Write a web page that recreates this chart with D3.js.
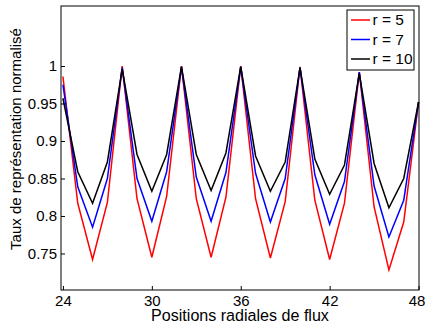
<!DOCTYPE html>
<html><head><meta charset="utf-8">
<script src="https://cdn.jsdelivr.net/npm/d3@7"></script>
<style>html,body{margin:0;padding:0;background:#fff;}svg{display:block;font-family:"Liberation Sans",Arial,sans-serif;}</style>
</head><body>
<svg id="c" width="426" height="324"></svg>
<script>
const positions = d3.range(24, 49);
const r5 = [0.986,0.817,0.742,0.818,1.000,0.823,0.745,0.826,1.000,0.823,0.745,0.825,1.000,0.823,0.744,0.819,0.999,0.821,0.742,0.817,0.992,0.812,0.728,0.792,0.952];
const r7 = [0.975,0.839,0.785,0.850,0.998,0.850,0.793,0.859,0.999,0.852,0.793,0.858,0.999,0.857,0.792,0.850,0.998,0.855,0.789,0.846,0.992,0.840,0.772,0.821,0.952];
const r10 = [0.957,0.859,0.817,0.872,0.996,0.882,0.833,0.882,0.999,0.882,0.834,0.884,0.999,0.880,0.833,0.872,0.998,0.876,0.829,0.868,0.990,0.870,0.811,0.850,0.952];
const seriesNames = ["r = 5","r = 7","r = 10"];
const seriesColors = ["#ff0000","#0000ff","#000000"];
const xTicks = [24,30,36,42,48];
const yTicks = [0.75,0.8,0.85,0.9,0.95,1];
const xLabel = "Positions radiales de flux";
const yLabel = "Taux de représentation normalisé";

const svg = d3.select("#c");
const L = 61, R = 419, T = 6, B = 290;
const x = d3.scaleLinear().domain([23.87, 48.03]).range([L, R]);
const y = d3.scaleLinear().domain([0.7013, 1.08]).range([B, T]);

const series = [r5, r7, r10];
const line = d3.line().x((d,i)=>x(positions[i])).y(d=>y(d));
series.forEach((s,k)=>{
  svg.append("path").attr("d", line(s)).attr("fill","none")
    .attr("stroke", seriesColors[k]).attr("stroke-width",1.5).attr("stroke-linejoin","miter");
});

// axes
const xa = svg.append("g").attr("transform",`translate(0,${B})`)
  .call(d3.axisBottom(x).tickValues(xTicks).tickSize(-4).tickPadding(5).tickFormat(d3.format("d")));
const ya = svg.append("g").attr("transform",`translate(${L},0)`)
  .call(d3.axisLeft(y).tickValues(yTicks).tickSize(-4).tickPadding(4).tickFormat(d=>String(d)));
[xa,ya].forEach(g=>{
  g.select(".domain").remove();
  g.selectAll("text").attr("font-size",15).attr("fill","#000").attr("font-family","Liberation Sans, Arial, sans-serif");
  g.selectAll("line").attr("stroke","#000");
});
xa.selectAll(".tick").filter(d=>d===48).select("text").attr("dx",-2);
svg.append("rect").attr("x",L).attr("y",T).attr("width",R-L).attr("height",B-T)
  .attr("fill","none").attr("stroke","#000").attr("stroke-width",1);

function fit(sel, target){
  const base = 15;
  sel.attr("font-size", base);
  const w = sel.node().getComputedTextLength();
  if (w > 0) sel.attr("font-size", base * target / w);
}
const xt = svg.append("text").attr("x",(L+R)/2).attr("y",321).attr("text-anchor","middle").text(xLabel);
fit(xt, 178);
const yt = svg.append("text").attr("transform",`translate(21,139) rotate(-90)`).attr("text-anchor","middle").text(yLabel);
fit(yt, 222);

// legend
const lg = svg.append("g");
lg.append("rect").attr("x",347).attr("y",10).attr("width",67).attr("height",60)
  .attr("fill","#fff").attr("stroke","#000").attr("stroke-width",1);
seriesNames.forEach((n,k)=>{
  const yy = 20 + k*19.5;
  lg.append("line").attr("x1",351).attr("x2",370).attr("y1",yy).attr("y2",yy)
    .attr("stroke",seriesColors[k]).attr("stroke-width",1.5);
  lg.append("text").attr("x",372.5).attr("y",yy).attr("dy","0.35em").attr("font-size",15.5).text(n);
});
</script>
</body></html>
